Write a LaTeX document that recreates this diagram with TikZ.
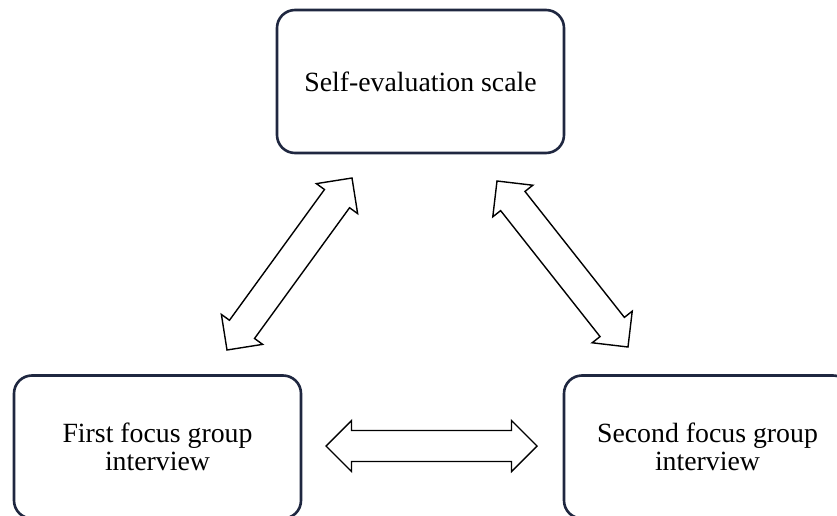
\documentclass[tikz,border=0pt]{standalone}
\usepackage{fontspec}
\setmainfont{Liberation Serif}
\usetikzlibrary{calc}
\definecolor{boxnavy}{HTML}{1F2740}

% Outlined two-headed block arrow between two tip coordinates
\newcommand\twowayarrow[2]{%
  \draw[blockarrow] (#1)
    -- ($(#1)!25.5pt!(#2)!25.5pt!90:(#2)$)
    -- ($(#1)!25.5pt!(#2)!15.5pt!90:(#2)$)
    -- ($(#2)!25.5pt!(#1)!15.5pt!-90:(#1)$)
    -- ($(#2)!25.5pt!(#1)!25.5pt!-90:(#1)$)
    -- (#2)
    -- ($(#2)!25.5pt!(#1)!25.5pt!90:(#1)$)
    -- ($(#2)!25.5pt!(#1)!15.5pt!90:(#1)$)
    -- ($(#1)!25.5pt!(#2)!15.5pt!-90:(#2)$)
    -- ($(#1)!25.5pt!(#2)!25.5pt!-90:(#2)$)
    -- cycle;}

\begin{document}
\begin{tikzpicture}[x=1pt,y=1pt,
  stagebox/.style={draw=boxnavy, line width=2.6pt, rounded corners=18pt,
    fill=white, minimum width=287pt, minimum height=143pt, align=center,
    font=\fontsize{27.8}{28}\selectfont, inner sep=0pt},
  blockarrow/.style={draw=black, line width=1.4pt, fill=white, line join=miter}]
\useasboundingbox (0,0) rectangle (837,515);
\clip (0,0) rectangle (837,515);

% the three stages
\node[stagebox] (scale)  at (420.5,433.5) {Self-evaluation scale};
\node[stagebox] (first)  at (157.5,68)    {First focus group\\interview};
\node[stagebox] (second) at (707.5,68)    {Second focus group\\interview};

% arrow tips
\coordinate (fs1) at (227,165);
\coordinate (fs2) at (352,337);
\coordinate (ss1) at (497,334);
\coordinate (ss2) at (628,168);
\coordinate (fg1) at (326,69);
\coordinate (fg2) at (537,69);

\twowayarrow{fs1}{fs2}
\twowayarrow{ss1}{ss2}
\twowayarrow{fg1}{fg2}
\end{tikzpicture}
\end{document}
